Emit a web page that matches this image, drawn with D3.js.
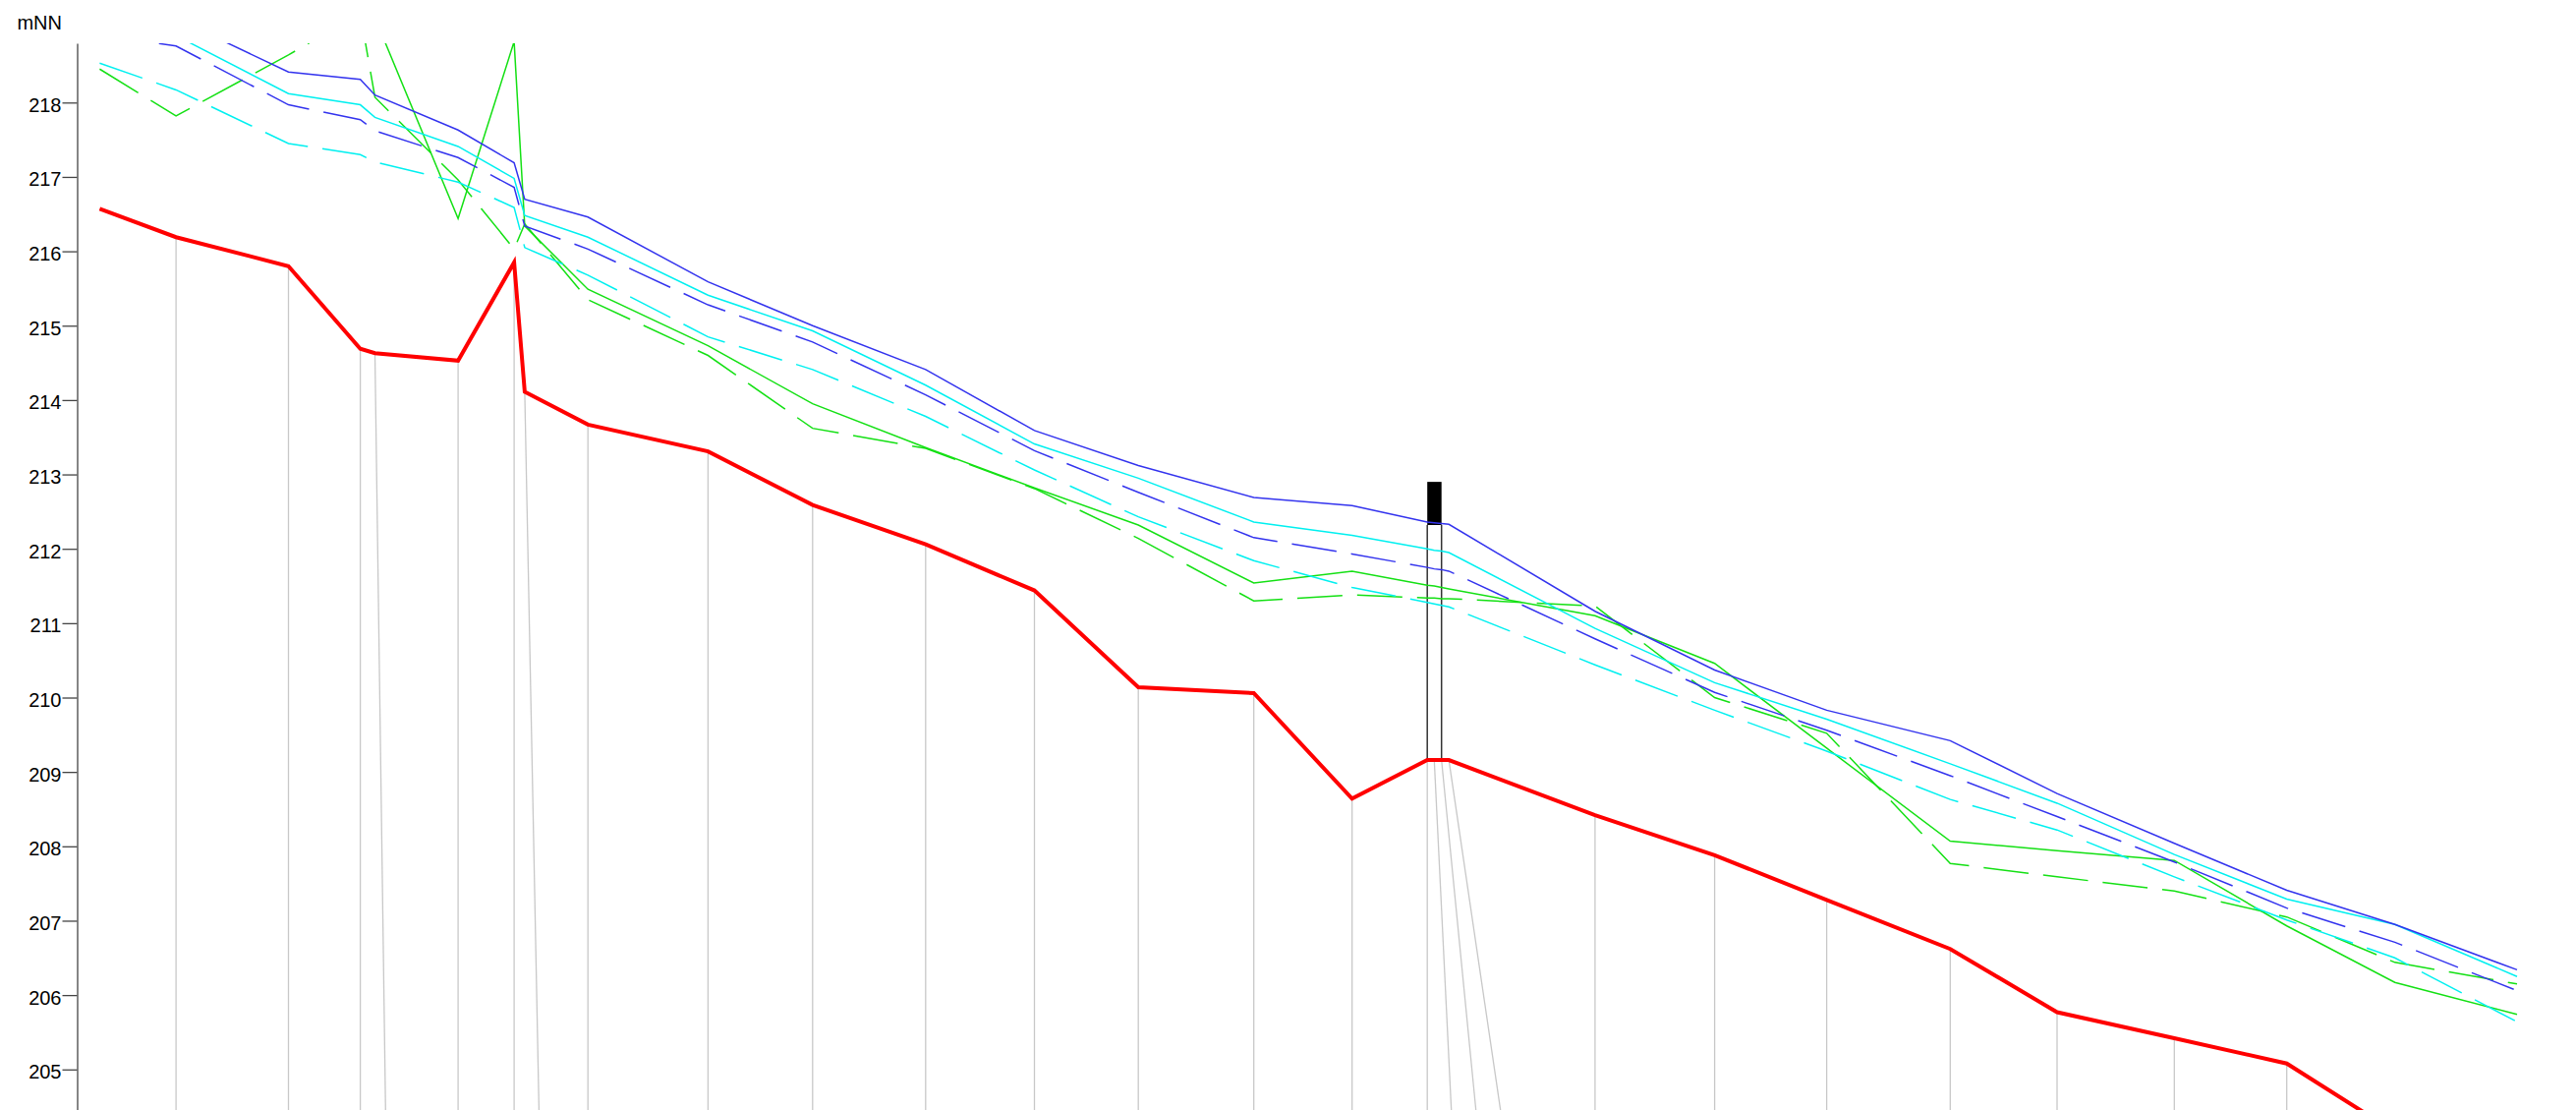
<!DOCTYPE html>
<html>
<head>
<meta charset="utf-8">
<script src="https://cdn.jsdelivr.net/npm/d3@7/dist/d3.min.js"></script>
<style>
  html, body { margin: 0; padding: 0; background: #fff; }
  svg { display: block; }
</style>
</head>
<body>
<div id="chart"></div>
<script>
// ---- data ----
const stations = [22.9, 100.6, 215.0, 288.1, 303.0, 387.6, 444.6, 455.4, 519.7, 641.9, 748.3, 863.3, 974.0, 1079.7, 1197.2, 1297.2, 1373.7, 1380.8, 1388.2, 1395.7, 1544.4, 1666.1, 1780.1, 1905.8, 2014.5, 2133.8, 2248.2, 2358.2, 2482.5];
const bed = [216.57, 216.19, 215.80, 214.69, 214.63, 214.53, 215.85, 214.11, 213.67, 213.31, 212.59, 212.06, 211.44, 210.14, 210.06, 208.64, 209.16, 209.16, 209.16, 209.16, 208.42, 207.88, 207.28, 206.62, 205.77, 205.42, 205.08, 204.16, 203.55];
const wsBlue = [219.30, 219.13, 218.41, 218.31, 218.10, 217.63, 217.19, 216.70, 216.46, 215.59, 215.00, 214.41, 213.59, 213.12, 212.69, 212.58, 212.36, 212.35, 212.34, 212.33, 211.16, 210.37, 209.83, 209.42, 208.71, 208.04, 207.41, 206.95, 206.34];
const wsBlueDashed = [218.91, 218.76, 217.97, 217.77, 217.62, 217.26, 216.86, 216.34, 216.03, 215.28, 214.78, 214.07, 213.32, 212.76, 212.15, 211.93, 211.75, 211.73, 211.72, 211.70, 210.79, 210.07, 209.56, 208.95, 208.40, 207.79, 207.17, 206.71, 206.06];
const wsCyan = [219.05, 218.90, 218.12, 217.97, 217.80, 217.41, 216.98, 216.48, 216.19, 215.41, 214.93, 214.20, 213.41, 212.95, 212.36, 212.18, 212.00, 211.98, 211.97, 211.95, 210.93, 210.20, 209.71, 209.11, 208.58, 207.89, 207.29, 206.95, 206.25];
const wsCyanDashed = [218.53, 218.17, 217.45, 217.30, 217.20, 216.93, 216.59, 216.05, 215.68, 214.85, 214.41, 213.78, 213.06, 212.43, 211.84, 211.48, 211.28, 211.26, 211.24, 211.22, 210.44, 209.83, 209.28, 208.63, 208.22, 207.59, 207.01, 206.50, 205.64];
const wsGreen = [219.30, 219.40, 219.50, 219.60, 219.14, 216.44, 218.82, 216.34, 215.49, 214.73, 213.95, 213.36, 212.82, 212.32, 211.54, 211.70, 211.51, 211.50, 211.48, 211.46, 211.10, 210.46, 209.32, 208.07, 207.94, 207.81, 206.93, 206.17, 205.74];
const wsGreenDashed = [218.45, 217.82, 218.64, 219.20, 218.07, 216.96, 216.03, 216.37, 215.35, 214.60, 213.62, 213.35, 212.81, 212.14, 211.30, 211.38, 211.34, 211.34, 211.33, 211.33, 211.23, 210.00, 209.52, 207.77, 207.59, 207.40, 207.05, 206.44, 206.15];
// where each cross-section guide line heads at the bottom (station units), null = none
const sectionLabelStation = [null, 100.6, 215.0, 288.1, 313.8, 387.6, 444.6, 469.9, 519.7, 641.9, 748.3, 863.3, 974.0, 1079.7, 1197.2, 1297.2, 1373.7, 1398.2, 1423.2, 1448.2, 1544.4, 1666.1, 1780.1, 1905.8, 2014.5, 2133.8, 2248.2, 2358.2, 2482.5];
const bridgeFrom = 1373.7, bridgeTo = 1388.2, deckTop = 212.90, deckBottom = 212.32;
const yTicks = [205, 206, 207, 208, 209, 210, 211, 212, 213, 214, 215, 216, 217, 218];
const yUnit = "mNN";

// ---- layout ----
const W = 2621, H = 1129;
const svg = d3.select("#chart").append("svg").attr("width", W).attr("height", H);
const x = d3.scaleLinear().domain([0, 2542.5]).range([78.5, 2621]);
const y = d3.scaleLinear().domain([204.455, 218.797]).range([1129, 44]);

svg.append("defs").append("clipPath").attr("id", "plot")
  .append("rect").attr("x", 79).attr("y", y.range()[1]).attr("width", W - 79).attr("height", H - y.range()[1]);

const plot = svg.append("g").attr("clip-path", "url(#plot)");

// guide lines for cross sections
const idx = d3.range(stations.length).filter(i => sectionLabelStation[i] !== null);
plot.append("g").selectAll("line").data(idx).join("line")
  .attr("x1", i => x(stations[i])).attr("y1", i => y(bed[i]))
  .attr("x2", i => x(sectionLabelStation[i])).attr("y2", y.range()[0])
  .attr("stroke", "#c8c8c8").attr("stroke-width", 1.3);

// bridge
const bi0 = stations.indexOf(bridgeFrom), bi1 = stations.indexOf(bridgeTo);
plot.append("g").selectAll("line").data([bi0, bi1]).join("line")
  .attr("x1", i => x(stations[i])).attr("x2", i => x(stations[i]))
  .attr("y1", y(deckBottom)).attr("y2", i => y(bed[i]))
  .attr("stroke", "#333").attr("stroke-width", 1.5);
plot.append("rect")
  .attr("x", x(bridgeFrom)).attr("width", x(bridgeTo) - x(bridgeFrom))
  .attr("y", y(deckTop)).attr("height", y(deckBottom) - y(deckTop))
  .attr("fill", "#000");

const line = d3.line().x((d, i) => x(stations[i])).y(d => y(d));
const series = [
  { v: wsGreenDashed, c: "#14e014", dash: "46,15" },
  { v: wsGreen, c: "#14e014", dash: null },
  { v: wsCyanDashed, c: "#00f0f0", dash: "46,15" },
  { v: wsCyan, c: "#00f0f0", dash: null },
  { v: wsBlueDashed, c: "#3333ee", dash: "46,15" },
  { v: wsBlue, c: "#3333ee", dash: null }
];
plot.append("g").selectAll("path").data(series).join("path")
  .attr("d", s => line(s.v)).attr("fill", "none")
  .attr("stroke", s => s.c).attr("stroke-width", 1.5)
  .attr("stroke-dasharray", s => s.dash);

plot.append("path").attr("d", line(bed)).attr("fill", "none")
  .attr("stroke", "#ff0000").attr("stroke-width", 4).attr("stroke-linejoin", "miter");

// axis
const ax = svg.append("g").attr("transform", "translate(78.5,0)")
  .call(d3.axisLeft(y).tickValues(yTicks).tickFormat(d3.format("d")).tickSize(15).tickSizeOuter(0).tickPadding(1));
ax.select(".domain").attr("stroke", "#444").attr("stroke-width", 1.3);
ax.selectAll(".tick line").attr("stroke", "#444").attr("stroke-width", 1.3);
ax.selectAll(".tick text").attr("fill", "#000").attr("font-family", "Arial, 'Liberation Sans', sans-serif")
  .attr("font-size", 20).attr("dy", "0.45em");

svg.append("text").attr("x", 63).attr("y", 29.5).attr("text-anchor", "end")
  .attr("font-family", "Arial, 'Liberation Sans', sans-serif").attr("font-size", 20).attr("fill", "#000")
  .text(yUnit);
</script>
</body>
</html>
